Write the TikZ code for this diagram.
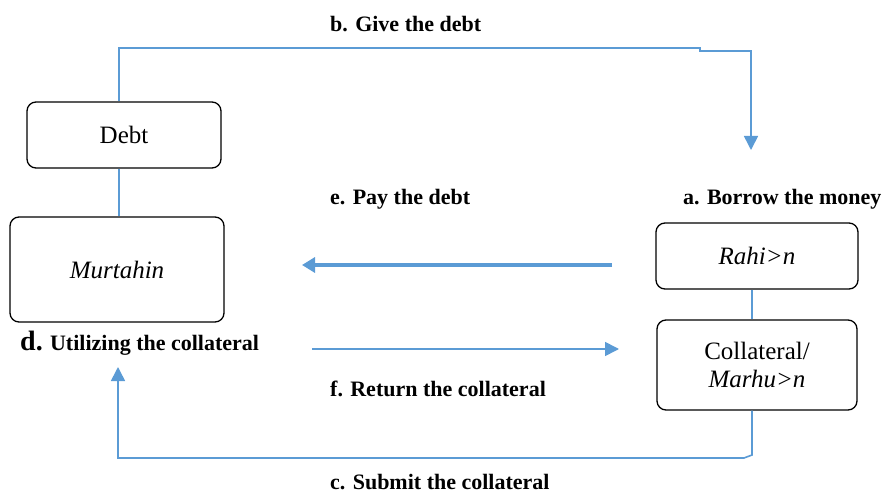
\documentclass[tikz,border=0pt]{standalone}
\usepackage{fontspec}
\setmainfont{Liberation Serif}
\usetikzlibrary{arrows.meta}
\definecolor{flowblue}{RGB}{91,155,213}
\begin{document}
\begin{tikzpicture}[x=1pt,y=-1pt,
  box/.style={draw=black,line width=1.3pt,rounded corners=9pt,inner sep=0pt,font=\fontsize{25}{28}\selectfont,align=center},
  lbl/.style={anchor=base west,inner sep=0pt,font=\bfseries\fontsize{22}{24}\selectfont},
  thinflow/.style={draw=flowblue,line width=1.6pt},
  thinarrow/.style={thinflow,-{Triangle[length=14pt,width=14pt]}},
  thickarrow/.style={draw=flowblue,line width=4pt,-{Triangle[length=13pt,width=15pt]}}]
\useasboundingbox (0,0) rectangle (886,492);
\clip (0,0) rectangle (886,492);
% boxes
\node[box,minimum width=194pt,minimum height=66pt] (debt) at (124,135) {Debt};
\node[box,minimum width=214pt,minimum height=105pt] (murt) at (117,269.5) {\itshape Murtahin};
\node[box,minimum width=202pt,minimum height=66pt] (rahin) at (757,256) {\itshape Rahi>n};
\node[box,minimum width=200pt,minimum height=90pt] (coll) at (757,365) {Collateral/\\\itshape Marhu>n};
% coordinates
\coordinate (btip) at (751,150);
\coordinate (etail) at (612,265);
\coordinate (ehead) at (302,265);
\coordinate (ftail) at (312,349);
\coordinate (fhead) at (619,349);
\coordinate (ctip) at (118,367);
% connectors
\draw[thinflow] (debt.south -| murt.north) ++(2,0) coordinate (dm) -- (dm |- murt.north);
\draw[thinflow] (rahin.south -| 752,0) -- (coll.north -| 752,0);
\draw[thinarrow] (debt.north -| 119,0) -- (119,48) -- (700,48) -- (700,51) -- (751,51) -- (btip);
\draw[thickarrow] (etail) -- (ehead);
\draw[thinarrow] (ftail) -- (fhead);
\draw[thinarrow] (coll.south -| 752,0) -- (752,455) -- (744,458) -- (118,458) -- (ctip);
% labels
\node[lbl] (lb) at (330,32) {b. Give the debt};
\node[lbl] (le) at (330,204) {e. Pay the debt};
\node[lbl] (la) at (683,204) {a. Borrow the money};
\node[lbl] (ld) at (20,350) {{\fontsize{28}{30}\selectfont d.} Utilizing the collateral};
\node[lbl] (lf) at (330,396) {f. Return the collateral};
\node[lbl] (lc) at (330,489) {c. Submit the collateral};
\end{tikzpicture}
\end{document}
